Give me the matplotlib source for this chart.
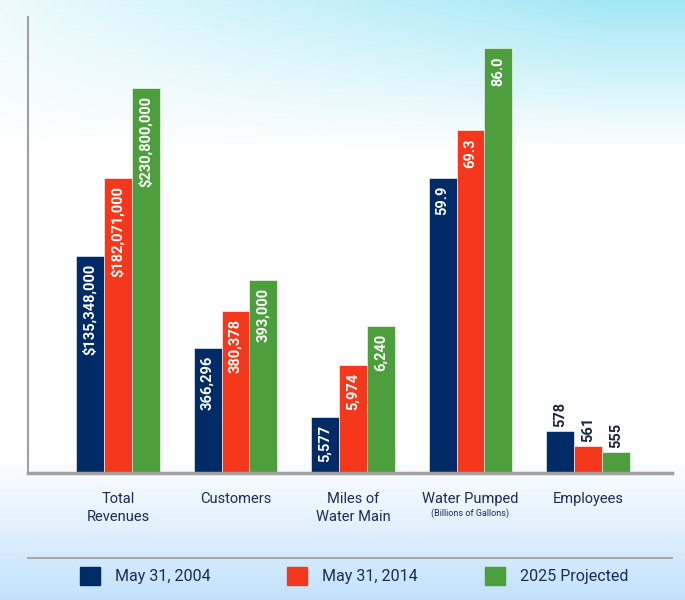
import numpy as np
import matplotlib.pyplot as plt

plt.rcParams['font.family'] = ['Roboto', 'DejaVu Sans']

# categories and series
categories = ['Total\nRevenues', 'Customers', 'Miles of\nWater Main', 'Water Pumped', 'Employees']
series_names = ['May 31, 2004', 'May 31, 2014', '2025 Projected']
colors = ['#002b66', '#f5371c', '#4c9f3c']

# value labels printed on the bars
labels_2004 = ['$135,348,000', '366,296', '5,577', '59.9', '578']
labels_2014 = ['$182,071,000', '380,378', '5,974', '69.3', '561']
labels_2025 = ['$230,800,000', '393,000', '6,240', '86.0', '555']

# bar heights as drawn (each category has its own visual scale)
heights_2004 = [217, 125, 56, 295, 42]
heights_2014 = [295, 162, 108, 343, 27]
heights_2025 = [385, 193, 147, 425, 21]

W, H = 685, 600
fig = plt.figure(figsize=(W / 100, H / 100), dpi=100)

# background gradient
yy, xx = np.mgrid[0:1:300j, 0:1:343j]
white = np.array([1.0, 1.0, 1.0])
cyan = np.array([0.64, 0.91, 0.96])
blue = np.array([0.71, 0.86, 0.98])
w_cyan = np.clip(0.2 + xx * 0.9, 0, 1) * np.clip(1 - yy * 4.0, 0, 1)
w_cyan = np.clip(w_cyan, 0, 1)
w_blue = np.clip((yy - 0.76) * 3.4, 0, 1)
img = np.ones((300, 343, 3)) * white
img = img * (1 - w_cyan[..., None]) + cyan * w_cyan[..., None]
img = img * (1 - w_blue[..., None]) + blue * w_blue[..., None]
bg = fig.add_axes([0, 0, 1, 1], zorder=-10)
bg.imshow(img, aspect='auto', extent=[0, 1, 0, 1], interpolation='bicubic')
bg.set_xlim(0, 1)
bg.set_ylim(0, 1)
bg.axis('off')

left, right, top, base = 28, 672, 17, 473
ax = fig.add_axes([left / W, (H - base) / H, (right - left) / W, (base - top) / H])
ax.patch.set_alpha(0)

x = np.arange(len(categories))
bw = 0.238
all_heights = [heights_2004, heights_2014, heights_2025]
all_labels = [labels_2004, labels_2014, labels_2025]
for i, (hs, labs) in enumerate(zip(all_heights, all_labels)):
    xs = x + (i - 1) * bw
    ax.bar(xs, hs, width=bw, color=colors[i], edgecolor='white', linewidth=0.4,
           label=series_names[i])
    for j, (xi, h, lab) in enumerate(zip(xs, hs, labs)):
        if j < 4:
            ax.text(xi, h - 8, lab, rotation=90, ha='center', va='top',
                    color='white', fontsize=10.5, fontweight='bold')
        else:
            ax.text(xi, h + 4, lab, rotation=90, ha='center', va='bottom',
                    color='#1b2440', fontsize=10.5, fontweight='bold')

ax.set_xlim(-0.766, 4.715)
ax.set_ylim(0, base - top)
for s in ['top', 'right']:
    ax.spines[s].set_visible(False)
ax.spines['left'].set_color('#a0a0a0')
ax.spines['left'].set_linewidth(1.5)
ax.spines['bottom'].set_color('#a0a0a0')
ax.spines['bottom'].set_linewidth(2.5)
ax.set_yticks([])
ax.set_xticks(x)
ax.set_xticklabels(categories, fontsize=10.5, color='#1a2a5c', linespacing=1.35)
ax.tick_params(axis='x', length=0, pad=14)
ax.text(x[3], -40, '(Billions of Gallons)', ha='center', va='center',
        fontsize=6.5, color='#1a2a5c')

# legend row
fig.add_artist(plt.Line2D([28 / W, 672 / W], [1 - 558 / H, 1 - 558 / H],
                          color='#a8a8a8', linewidth=1.5))
leg_x = [80, 287, 485]
for i, name in enumerate(series_names):
    fig.add_artist(plt.Rectangle((leg_x[i] / W, 1 - 585 / H), 20 / W, 18 / H,
                                 color=colors[i], transform=fig.transFigure))
    fig.text((leg_x[i] + 35) / W, 1 - 577 / H, name, ha='left', va='center',
             fontsize=11.5, color='#1a2a5c')

fig.savefig('out.png', dpi=100)
